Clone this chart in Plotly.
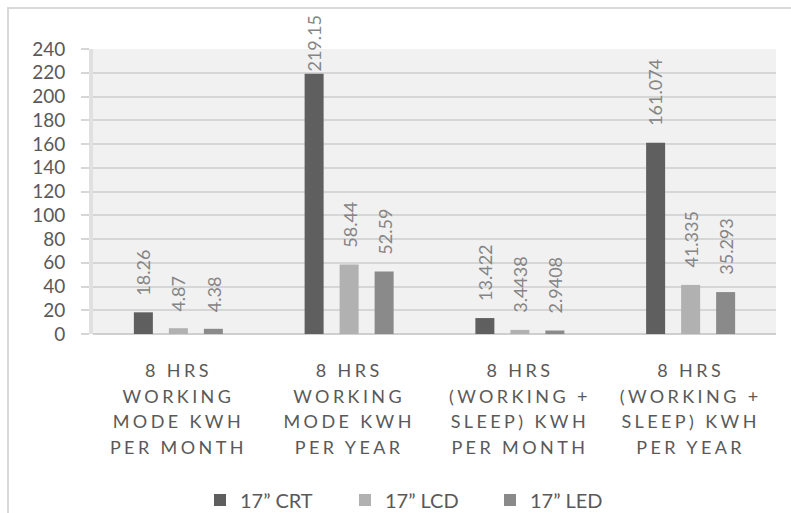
import plotly.graph_objects as go

# Energy use of 17" monitors by display technology
categories = [
    "8 HRS<br>WORKING<br>MODE KWH<br>PER MONTH",
    "8 HRS<br>WORKING<br>MODE KWH<br>PER YEAR",
    "8 HRS<br>(WORKING +<br>SLEEP) KWH<br>PER MONTH",
    "8 HRS<br>(WORKING +<br>SLEEP) KWH<br>PER YEAR",
]
series_names = ["17\u201d CRT", "17\u201d LCD", "17\u201d LED"]
crt = [18.26, 219.15, 13.422, 161.074]
lcd = [4.87, 58.44, 3.4438, 41.335]
led = [4.38, 52.59, 2.9408, 35.293]
y_ticks = list(range(0, 241, 20))

series = [crt, lcd, led]
colors = ["#5f5f5f", "#b1b1b1", "#8a8a8a"]

W, H = 791, 513
M_L, M_R, M_T, M_B = 93, 15, 49, 179
plot_h = H - M_T - M_B
y_max = 240
bargap = 0.385
slot = (1 - bargap) / len(series)

xs = list(range(len(categories)))
fig = go.Figure()
for name, vals, col in zip(series_names, series, colors):
    fig.add_trace(go.Bar(x=xs, y=vals, name=name, marker=dict(color=col, line=dict(width=0))))

# Rotated value labels above each bar, kept inside the chart frame
annotations = []
for si, vals in enumerate(series):
    off = (si - 1) * slot
    for i, v in enumerate(vals):
        txt = str(v)
        bar_top_px = M_T + (y_max - v) * plot_h / y_max
        txt_len = len(txt) * 9.4
        shift = 15
        if bar_top_px - shift - txt_len < 17:
            shift = max(0, bar_top_px - txt_len - 17)
        annotations.append(dict(
            x=i + off, y=v, xref="x", yref="y", text=txt, textangle=-90,
            showarrow=False, xanchor="center", yanchor="bottom", yshift=shift,
            font=dict(family="Lato", size=18, color="#858585"),
        ))

# Light outer chart frame
px_to_x = lambda p: (p - M_L) / (W - M_L - M_R)
px_to_y = lambda p: (H - M_B - p) / plot_h
shapes = [dict(
    type="rect", xref="paper", yref="paper",
    x0=px_to_x(8), x1=px_to_x(W + 20), y0=px_to_y(H + 20), y1=px_to_y(8),
    line=dict(color="#d9d9d9", width=2), fillcolor="rgba(0,0,0,0)", layer="below",
)]

fig.update_layout(
    width=W, height=H,
    margin=dict(l=M_L, r=M_R, t=M_T, b=M_B, pad=0, autoexpand=False),
    paper_bgcolor="white", plot_bgcolor="#f1f1f1",
    barmode="group", bargap=bargap, bargroupgap=0.457,
    font=dict(family="Lato", color="#595959"),
    showlegend=True,
    legend=dict(
        orientation="h", x=px_to_x(200), xanchor="left", y=px_to_y(500), yanchor="middle",
        font=dict(size=20, color="#595959"), entrywidth=100, itemwidth=30,
        traceorder="normal",
    ),
    annotations=annotations,
    shapes=shapes,
    xaxis=dict(
        tickmode="array", tickvals=xs, ticktext=categories,
        range=[-0.5, len(categories) - 0.5], automargin=False,
        showgrid=False, zeroline=False, showline=False, ticks="",
        tickfont=dict(family="Lato", size=18, color="#595959"),
        ticklabelstandoff=24,
    ),
    yaxis=dict(
        range=[0, y_max], tickmode="array", tickvals=y_ticks, automargin=False,
        showgrid=True, gridcolor="#d6d6d6", gridwidth=1.5,
        zeroline=True, zerolinecolor="#cfcfcf", zerolinewidth=2,
        showline=True, linecolor="#e0e0e0", linewidth=4,
        ticks="outside", ticklen=8, tickcolor="#d6d6d6", tickwidth=1.5,
        tickfont=dict(family="Lato", size=19, color="#595959"),
        ticklabelstandoff=12,
    ),
)

# Spaced capitals and taller line pitch for the category labels
post = """
var gd = document.getElementById('{plot_id}');
function styleTicks(){
  gd.querySelectorAll('.xtick text').forEach(function(t){
    t.style.letterSpacing = '3.4px';
    t.querySelectorAll('tspan.line').forEach(function(s){
      var dy = s.getAttribute('dy');
      if (dy && !s.dataset.done) {
        var v = parseFloat(dy);
        s.setAttribute('dy', (v * 25.5 / 23.4) + 'em');
        s.dataset.done = '1';
      }
    });
  });
}
styleTicks();
gd.on('plotly_afterplot', styleTicks);
"""

fig.write_html("out.html", post_script=post)
